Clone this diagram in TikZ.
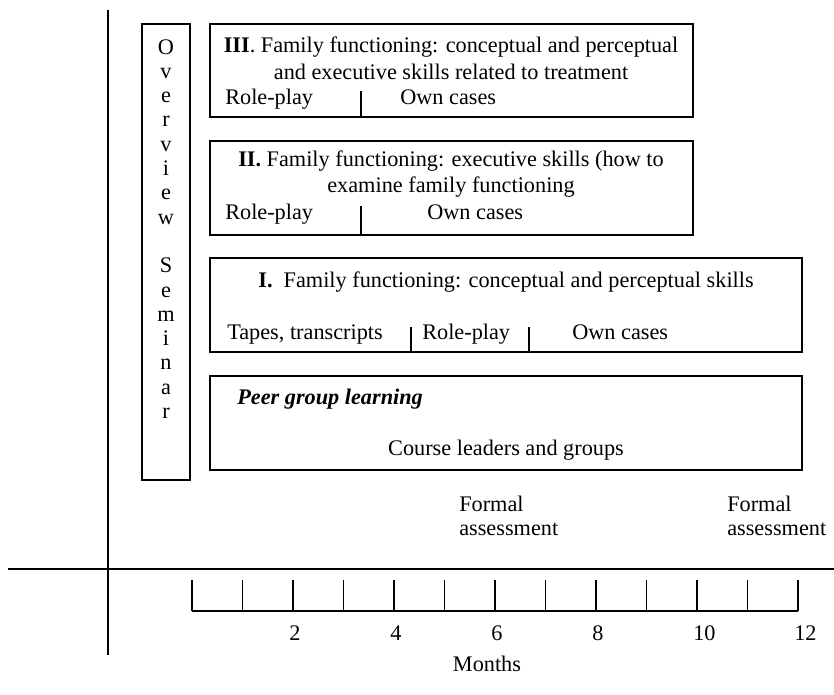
\documentclass[tikz,border=0pt]{standalone}
\usepackage{fontspec}
\setmainfont{Liberation Serif}
\tikzset{
  panel/.style={line width=1.1pt},
  rule/.style={line width=1.2pt},
  tick/.style={line width=0.9pt},
  lbl/.style={anchor=base west, inner sep=0pt},
  mid/.style={anchor=base, inner sep=0pt},
}
\begin{document}
\begin{tikzpicture}[x=0.75pt, y=-0.75pt, every node/.style={font=\fontsize{16.7}{20}\selectfont}]
\useasboundingbox (0,0) rectangle (834,694);
% axes
\draw[rule] (108,10) -- (108,655);
\draw[rule] (8,569) -- (834,569);

% overview seminar
\draw[panel] (142,24) rectangle (190,480);
\foreach \c [count=\k] in {O,v,e,r,v,i,e,w,,S,e,m,i,n,a,r}
  \node[mid] (ov\k) at (166,{54+24.3*(\k-1)}) {\c};

% block III
\draw[panel] (210,24) rectangle (693,117);
\node[mid] (t3) at (451,52) {\textbf{III}. Family functioning: conceptual and perceptual};
\node[mid] (t3b) at (451,79) {and executive skills related to treatment};
\node[lbl] (rp3) at (225,104) {Role-play};
\node[lbl] (oc3) at (400,104) {Own cases};
\draw[panel] (361,91) -- (361,117);

% block II
\draw[panel] (210,141) rectangle (693,235);
\node[mid] (t2) at (451,166) {\textbf{II.} Family functioning: executive skills (how to};
\node[mid] (t2b) at (451,192) {examine family functioning};
\node[lbl] (rp2) at (225,219) {Role-play};
\node[lbl] (oc2) at (427,219) {Own cases};
\draw[panel] (361,206) -- (361,235);

% block I
\draw[panel] (210,258) rectangle (802,352);
\node[mid] (t1) at (506,287) {\textbf{I.}\ \ Family functioning: conceptual and perceptual skills};
\node[lbl] (tt1) at (227,339) {Tapes, transcripts};
\node[lbl] (rp1) at (422,339) {Role-play};
\node[lbl] (oc1) at (572,339) {Own cases};
\draw[panel] (411,327) -- (411,352);
\draw[panel] (529,327) -- (529,352);

% peer group
\draw[panel] (210,376) rectangle (802,470);
\node[lbl] (pg) at (237,404) {\textbf{\textit{Peer group learning}}};
\node[mid] (cl) at (506,455) {Course leaders and groups};

% assessments
\node[lbl] (fa1) at (459,511) {Formal};
\node[lbl] (fa1b) at (459,535) {assessment};
\node[lbl] (fa2) at (727,511) {Formal};
\node[lbl] (fa2b) at (727,535) {assessment};

% months scale
\draw[rule] (192,611) -- (798,611);
\foreach \i in {0,...,12}
  \draw[tick] ({192+50.5*\i},580) -- ({192+50.5*\i},611);
\foreach \i in {2,4,...,12}
  \node[lbl] (m\i) at ({188+50.5*\i},640) {\i};
\node[mid] (months) at (487,671) {Months};
\end{tikzpicture}
\end{document}
